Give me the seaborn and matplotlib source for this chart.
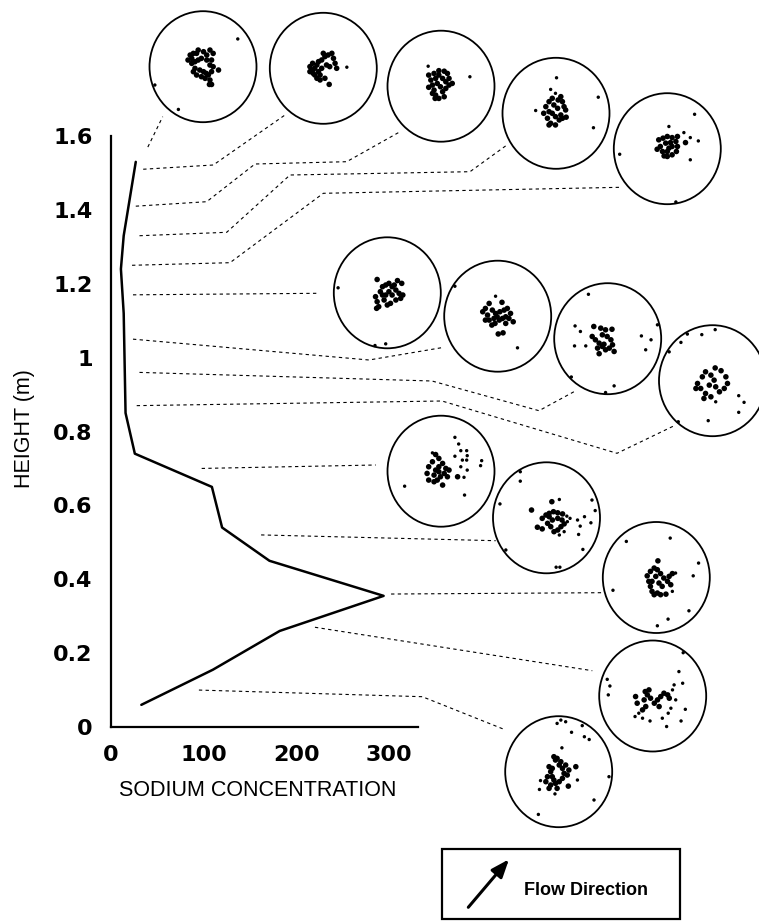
import matplotlib
matplotlib.use("Agg")
import matplotlib.pyplot as plt
import pandas as pd
import seaborn as sns
from matplotlib.patches import Ellipse, Rectangle

# ---------------------------------------------------------------- data
# Sodium concentration profile with height
sodium = [27, 14, 11, 14, 16, 26, 109, 120, 171, 294, 182, 110, 33]
height = [1.53, 1.33, 1.24, 1.12, 0.85, 0.74, 0.65, 0.54, 0.45, 0.355, 0.26, 0.155, 0.06]

x_ticks = [0, 100, 200, 300]
y_ticks = [0, 0.2, 0.4, 0.6, 0.8, 1.0, 1.2, 1.4, 1.6]
y_tick_labels = ["0", "0.2", "0.4", "0.6", "0.8", "1", "1.2", "1.4", "1.6"]

# Heights at which fabric samples were taken (top to bottom)
sample_heights = [1.57, 1.51, 1.41, 1.33, 1.25, 1.17, 1.05, 0.96, 0.87,
                  0.70, 0.52, 0.36, 0.27, 0.10]

# Fabric points of each sample, in net coordinates (unit circle, y up)
fabric_01 = [(0.65, 0.50), (0.29, -0.06), (0.16, -0.32), (0.12, -0.32), (-0.46, -0.77), (-0.90, -0.33),
             (-0.24, 0.21), (-0.18, 0.24), (-0.09, 0.30), (0.01, 0.27), (0.13, 0.30), (0.19, 0.24),
             (-0.28, 0.12), (-0.21, 0.06), (-0.15, -0.03), (-0.18, -0.09), (-0.12, -0.15), (-0.03, -0.18),
             (0.04, -0.21), (0.10, -0.15), (0.16, -0.09), (0.13, 0.03), (0.07, 0.12), (-0.03, 0.15),
             (-0.09, 0.12), (-0.21, 0.15), (0.07, 0.21), (0.16, 0.12), (0.01, -0.09), (-0.06, -0.06),
             (-0.12, 0.24), (0.19, 0.0), (0.13, -0.24), (0.06, -0.12), (-0.15, 0.09)]
fabric_02 = [(-0.25, 0.03), (-0.22, -0.03), (-0.19, -0.09), (-0.16, 0.0), (-0.12, 0.06), (-0.09, -0.06),
             (-0.06, -0.12), (-0.20, 0.09), (-0.03, 0.15), (0.03, 0.21), (0.0, 0.27), (0.09, 0.24),
             (0.16, 0.27), (0.19, 0.18), (0.22, 0.09), (0.25, 0.0), (0.12, 0.03), (0.06, 0.06),
             (-0.03, 0.0), (-0.12, -0.18), (-0.06, -0.21), (0.03, -0.18), (-0.16, -0.12), (-0.09, 0.12),
             (-0.25, -0.06), (0.11, -0.29), (0.44, 0.02)]
fabric_03 = [(-0.24, 0.36), (-0.23, 0.20), (-0.19, 0.11), (-0.16, 0.02), (-0.13, -0.07), (-0.10, -0.16),
             (-0.04, -0.22), (0.06, -0.19), (0.03, -0.10), (-0.01, -0.01), (-0.07, 0.05), (-0.10, 0.14),
             (-0.13, 0.23), (-0.04, 0.20), (0.03, 0.14), (0.09, 0.08), (0.15, 0.02), (0.21, 0.05),
             (0.12, 0.23), (0.06, 0.27), (-0.04, 0.28), (-0.16, -0.13), (-0.23, -0.02), (0.09, -0.04),
             (0.15, 0.14), (0.54, 0.17), (-0.11, -0.22)]
fabric_04 = [(0.01, 0.64), (0.79, 0.29), (0.70, -0.26), (-0.38, 0.05), (-0.10, 0.43), (-0.01, 0.36),
             (0.09, 0.30), (0.12, 0.21), (0.15, 0.12), (0.18, 0.06), (0.09, -0.03), (0.06, -0.12),
             (-0.01, -0.21), (-0.10, -0.18), (-0.16, -0.09), (-0.23, 0.0), (-0.19, 0.12), (-0.13, 0.21),
             (-0.07, 0.27), (-0.04, 0.15), (0.03, 0.09), (-0.07, 0.0), (-0.13, 0.03), (-0.01, -0.06),
             (0.12, -0.09), (0.19, -0.07), (-0.13, -0.21), (0.04, 0.24)]
fabric_05 = [(0.51, 0.62), (0.03, 0.40), (0.31, 0.29), (0.43, 0.20), (0.34, 0.11), (0.58, 0.14),
             (0.43, -0.20), (-0.89, -0.10), (0.16, -0.96), (0.19, 0.22), (-0.16, 0.16), (-0.13, 0.04),
             (-0.09, -0.05), (-0.06, -0.13), (0.0, -0.14), (0.09, -0.11), (0.17, -0.05), (0.19, 0.04),
             (0.16, 0.13), (0.09, 0.20), (0.0, 0.22), (-0.08, 0.19), (-0.03, 0.10), (0.03, 0.01),
             (0.09, 0.04), (0.0, -0.05), (-0.19, -0.01), (0.06, 0.11)]
fabric_06 = [(-0.92, 0.09), (-0.23, -0.95), (-0.03, -0.92), (-0.19, 0.24), (0.19, 0.22), (0.27, 0.17),
             (-0.22, -0.07), (-0.19, -0.16), (-0.16, -0.25), (-0.13, 0.02), (-0.09, 0.11), (-0.03, 0.14),
             (0.03, 0.17), (0.09, 0.11), (0.16, 0.05), (0.22, -0.01), (0.29, -0.04), (0.25, -0.10),
             (0.16, -0.13), (0.06, -0.19), (0.0, -0.22), (-0.06, -0.13), (-0.03, -0.04), (0.03, 0.02),
             (0.09, -0.04), (-0.09, -0.04), (-0.20, -0.28), (0.13, 0.14)]
fabric_07 = [(-0.80, 0.54), (0.37, -0.57), (-0.04, 0.36), (0.08, 0.25), (-0.16, 0.23), (0.01, -0.32),
             (0.10, -0.30), (-0.28, 0.08), (-0.23, 0.14), (-0.19, 0.02), (-0.16, -0.07), (-0.11, -0.16),
             (-0.05, -0.13), (0.03, -0.07), (0.09, -0.04), (0.15, -0.01), (0.21, -0.04), (0.29, -0.10),
             (0.24, 0.05), (0.18, 0.14), (0.12, 0.11), (0.04, 0.08), (-0.04, 0.05), (-0.10, 0.11),
             (-0.07, -0.04), (-0.01, -0.01), (-0.23, -0.07), (0.15, -0.13)]
fabric_08 = [(-0.36, 0.80), (-0.61, 0.23), (-0.51, 0.13), (-0.62, -0.13), (-0.41, -0.13), (0.63, 0.05),
             (0.81, -0.02), (0.71, -0.20), (0.93, 0.25), (-0.68, -0.69), (0.12, -0.85), (-0.04, -0.97),
             (-0.26, 0.22), (-0.13, 0.19), (-0.04, 0.16), (0.08, 0.17), (-0.29, 0.04), (-0.23, -0.02),
             (-0.16, -0.08), (-0.10, -0.14), (-0.04, -0.20), (0.03, -0.17), (0.09, -0.11), (0.06, -0.02),
             (-0.01, 0.04), (-0.10, 0.07), (-0.16, -0.27), (-0.07, -0.10), (-0.19, -0.17), (0.12, -0.23)]
fabric_09 = [(-0.81, 0.52), (-0.59, 0.69), (-0.47, 0.84), (-0.20, 0.83), (0.05, 0.92), (0.49, -0.27),
             (0.59, -0.39), (0.49, -0.57), (-0.08, -0.72), (-0.64, -0.74), (0.05, 0.23), (0.16, 0.18),
             (0.25, 0.07), (0.28, -0.05), (0.22, -0.14), (0.13, -0.20), (0.06, -0.38), (-0.03, -0.29),
             (-0.13, -0.23), (-0.22, -0.14), (-0.28, -0.05), (-0.19, 0.07), (-0.13, 0.16), (-0.03, 0.10),
             (0.03, 0.01), (-0.06, -0.08), (0.06, -0.11), (-0.16, -0.32), (-0.31, -0.14)]
fabric_10 = [(0.26, 0.61), (0.33, 0.49), (0.37, 0.37), (0.48, 0.37), (0.49, 0.28), (0.40, 0.20),
             (0.48, 0.20), (0.37, 0.08), (0.49, 0.02), (0.43, -0.11), (0.31, -0.10), (0.26, 0.27),
             (0.76, 0.19), (0.74, 0.10), (-0.68, -0.27), (0.44, -0.43), (-0.23, 0.08), (-0.16, 0.17),
             (-0.10, 0.30), (-0.04, 0.23), (0.03, 0.14), (0.09, 0.05), (0.15, 0.02), (0.06, -0.04),
             (-0.01, -0.10), (-0.07, -0.16), (-0.13, -0.19), (-0.23, -0.16), (-0.26, -0.04), (-0.10, 0.02),
             (-0.04, 0.08), (0.03, -0.25), (-0.16, 0.33), (0.12, -0.10), (-0.04, -0.01), (-0.13, -0.07)]
fabric_11 = [(-0.49, 0.66), (-0.49, 0.83), (-0.87, 0.25), (-0.28, 0.14), (0.85, 0.32), (0.91, 0.13),
             (0.83, -0.09), (0.68, -0.57), (0.60, -0.30), (0.58, -0.04), (0.71, 0.02), (0.63, -0.15),
             (0.18, -0.89), (0.25, -0.89), (-0.76, -0.58), (-0.17, -0.17), (-0.08, -0.20), (0.10, 0.29),
             (0.24, 0.33), (-0.08, -0.01), (-0.01, 0.05), (0.05, 0.08), (0.13, 0.11), (0.21, 0.09),
             (0.30, 0.07), (0.38, 0.03), (0.44, -0.01), (0.39, -0.07), (0.33, -0.11), (0.27, -0.16),
             (0.21, -0.22), (0.14, -0.25), (0.08, -0.16), (0.02, -0.10), (0.11, -0.04), (0.21, -0.01),
             (0.29, -0.04), (0.05, 0.02), (0.33, -0.25), (0.24, -0.31)]
fabric_12 = [(-0.56, 0.65), (0.26, 0.71), (0.03, 0.30), (0.79, 0.26), (0.69, 0.03), (-0.81, -0.23),
             (0.61, -0.60), (0.22, -0.75), (0.02, -0.87), (0.36, 0.08), (-0.17, 0.03), (-0.14, -0.07),
             (-0.11, -0.16), (-0.08, -0.25), (-0.04, -0.31), (0.02, -0.28), (0.08, -0.31), (0.18, -0.30),
             (0.30, -0.25), (0.27, -0.13), (0.21, -0.07), (0.14, -0.01), (0.08, 0.07), (0.02, 0.14),
             (-0.04, 0.17), (-0.11, 0.11), (-0.01, 0.02), (0.05, -0.10), (0.11, -0.16), (0.24, 0.02),
             (0.30, 0.07), (-0.08, -0.07)]
fabric_13 = [(0.57, 0.78), (0.49, 0.44), (-0.85, 0.30), (-0.80, 0.18), (-0.83, 0.02), (0.26, -0.55),
             (0.53, -0.45), (-0.05, -0.45), (-0.32, -0.01), (-0.29, -0.13), (-0.33, -0.37), (-0.26, -0.31),
             (-0.19, -0.25), (-0.13, -0.19), (-0.16, -0.07), (-0.10, 0.02), (-0.07, 0.11), (-0.04, -0.04),
             (0.03, -0.13), (0.09, -0.07), (0.15, -0.01), (0.21, 0.05), (0.28, 0.02), (0.31, -0.04),
             (0.37, 0.11), (0.40, 0.20), (0.34, -0.22), (0.29, -0.31), (0.43, -0.07), (0.56, 0.23),
             (0.61, -0.24), (0.18, -0.40), (-0.19, -0.40), (0.12, -0.19), (-0.14, 0.08)]
fabric_14 = [(0.04, 0.93), (0.13, 0.90), (-0.03, 0.87), (0.24, 0.71), (0.44, 0.83), (0.48, 0.63),
             (0.57, 0.58), (0.06, 0.43), (0.94, -0.09), (0.66, -0.51), (-0.38, -0.77), (-0.36, -0.32),
             (-0.34, -0.16), (0.35, -0.15), (0.32, 0.09), (0.18, -0.26), (-0.18, 0.09), (-0.15, 0.0),
             (-0.12, -0.09), (-0.09, -0.15), (-0.06, -0.21), (0.01, -0.18), (0.07, -0.12), (0.10, -0.03),
             (0.07, 0.06), (0.01, 0.12), (-0.06, 0.21), (-0.09, 0.27), (-0.03, 0.24), (0.04, 0.18),
             (0.13, 0.12), (0.19, 0.03), (0.16, -0.06), (-0.21, -0.09), (-0.24, -0.18), (-0.15, -0.24),
             (-0.03, -0.30), (-0.07, -0.40), (-0.18, -0.30), (-0.12, 0.06)]

fabrics = [fabric_01, fabric_02, fabric_03, fabric_04, fabric_05, fabric_06, fabric_07,
           fabric_08, fabric_09, fabric_10, fabric_11, fabric_12, fabric_13, fabric_14]

# ---------------------------------------------------------------- layout
W, H = 759, 921
FIG_DPI = 100

# Net centres in figure pixels (origin top-left)
net_centres = [(203, 66.7), (323.3, 68.3), (441, 86.2), (556, 113.3), (667.3, 148.7),
               (387.3, 292.8), (497.7, 316.2), (607.7, 338.7), (712.5, 380.7),
               (441, 471.2), (546.5, 517.8), (656.3, 577.5), (652.7, 696), (558.7, 771.7)]
net_rx, net_ry = 53.5, 55.5

# Leader lines: start offset (concentration units) and bend points (pixels)
leader_start_x = [40, 35, 27, 31, 23, 24, 24, 31, 28, 98, 162, 302, 220, 95]
leader_paths = [
    [(162.7, 116.7)],
    [(213.3, 165), (285, 115)],
    [(206.7, 201.7), (255, 164), (346.7, 161.7), (398.3, 132.7)],
    [(226.7, 232.3), (290, 175), (470, 171.7), (508.3, 144)],
    [(230, 262.7), (323.3, 193.3), (620.7, 187.3)],
    [(318.3, 293.3)],
    [(369, 360), (444, 347.3)],
    [(432, 381), (539, 410.7), (574, 391.7)],
    [(442, 401), (617, 453.3), (675.7, 425)],
    [(375.7, 465)],
    [(495.7, 540.7)],
    [(602.3, 592.7)],
    [(592.3, 670.7)],
    [(422.3, 696.7), (505.7, 730)],
]

sns.set_theme(style="white")
plt.rcParams["font.family"] = ["Liberation Sans", "DejaVu Sans"]
plt.rcParams.update({"text.color": "black", "axes.labelcolor": "black",
                     "xtick.color": "black", "ytick.color": "black"})

fig = plt.figure(figsize=(W / FIG_DPI, H / FIG_DPI), dpi=FIG_DPI)
fig.patch.set_facecolor("white")

ax_left, ax_right, ax_bottom, ax_top = 110.7, 418.0, 727.0, 136.0
ax = fig.add_axes([ax_left / W, 1 - ax_bottom / H,
                   (ax_right - ax_left) / W, (ax_bottom - ax_top) / H])
ax.set_facecolor("none")

profile = pd.DataFrame({"sodium": sodium, "height": height})
sns.lineplot(data=profile, x="sodium", y="height", sort=False, estimator=None,
             color="black", linewidth=1.8, ax=ax)

ax.set_xlim(0, 331)
ax.set_ylim(0, 1.6)
ax.set_xticks(x_ticks)
ax.set_yticks(y_ticks)
ax.set_yticklabels(y_tick_labels)
for s in ("top", "right"):
    ax.spines[s].set_visible(False)
for s in ("left", "bottom"):
    ax.spines[s].set_linewidth(1.6)
    ax.spines[s].set_color("black")
ax.tick_params(axis="both", direction="out", length=8, width=1.6, color="black",
               labelcolor="black", labelsize=16, pad=5)
for lab in ax.get_xticklabels() + ax.get_yticklabels():
    lab.set_fontfamily("DejaVu Sans")
    lab.set_fontweight("bold")
ax.grid(False)

ax.set_xlabel("SODIUM CONCENTRATION", fontsize=15.5, va="center", ha="center", color="black")
ax.xaxis.set_label_coords((258 - ax_left) / (ax_right - ax_left),
                          (ax_bottom - 790.8) / (ax_bottom - ax_top))
ax.set_ylabel("HEIGHT (m)", fontsize=15.5, va="center", ha="center", color="black")
ax.yaxis.set_label_coords((25 - ax_left) / (ax_right - ax_left),
                          (ax_bottom - 429) / (ax_bottom - ax_top))

# Overlay in pixel coordinates for the fabric nets and leader lines
ov = fig.add_axes([0, 0, 1, 1])
ov.set_xlim(0, W)
ov.set_ylim(H, 0)
ov.axis("off")
ov.patch.set_alpha(0)

# Leader lines from each sampling height to its net
for hgt, x0, path in zip(sample_heights, leader_start_x, leader_paths):
    disp = ax.transData.transform((x0, hgt))
    sx, sy = ov.transData.inverted().transform(disp)
    xs = [sx] + [p[0] for p in path]
    ys = [sy] + [p[1] for p in path]
    ov.plot(xs, ys, color="black", linewidth=0.8, linestyle=(0, (3, 3)))

# Fabric nets: clustered points drawn heavier than the scattered outliers
rows = []
for k, ((cx, cy), pts) in enumerate(zip(net_centres, fabrics)):
    ov.add_patch(Ellipse((cx, cy), 2 * net_rx, 2 * net_ry, fill=False,
                         edgecolor="black", linewidth=1.3))
    for px, py in pts:
        core = (px * px + py * py) ** 0.5 < 0.36
        rows.append({"net": k, "x": cx + px * net_rx, "y": cy - py * net_ry,
                     "size": 16 if core else 6})
pts_df = pd.DataFrame(rows)
sns.scatterplot(data=pts_df, x="x", y="y", size="size", sizes=(6, 16), color="black",
                linewidth=0, marker="o", ax=ov, legend=False)
ov.set_xlim(0, W)
ov.set_ylim(H, 0)
ov.axis("off")

# Flow direction key
ov.add_patch(Rectangle((441.7, 849.3), 238, 70, fill=False, edgecolor="black", linewidth=1.6))
ov.annotate("", xy=(509, 859.3), xytext=(468.3, 907.3),
            arrowprops=dict(arrowstyle="-|>,head_length=0.9,head_width=0.35",
                            color="black", linewidth=2.2, shrinkA=0, shrinkB=0))
ov.text(524, 890.7, "Flow Direction", fontsize=13, fontweight="bold",
        ha="left", va="center", color="black")

fig.savefig("out.png", dpi=FIG_DPI, facecolor="white")
